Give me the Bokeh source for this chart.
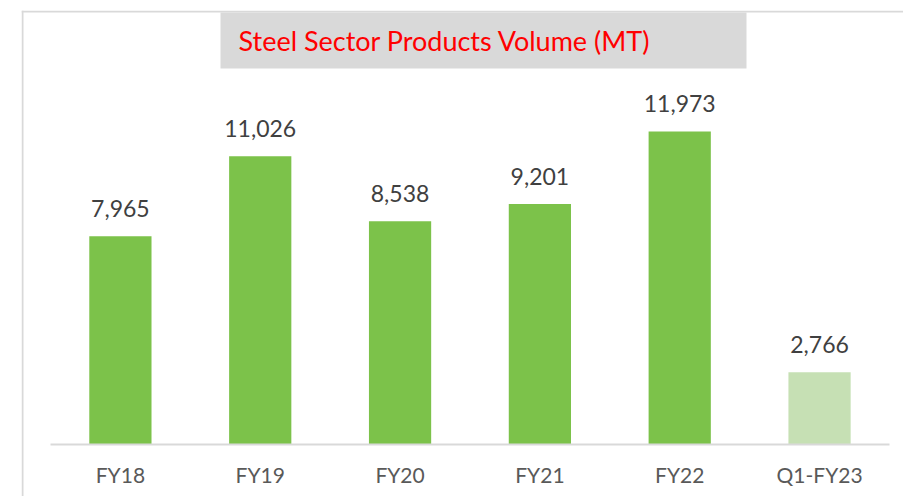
from bokeh.plotting import figure
from bokeh.models import (ColumnDataSource, LabelSet, Label, BoxAnnotation, Range1d,
                          LinearAxis, FixedTicker)
from bokeh.core.properties import value
from bokeh.embed import file_html
from bokeh.resources import INLINE

categories = ["FY18", "FY19", "FY20", "FY21", "FY22", "Q1-FY23"]
volumes = [7965, 11026, 8538, 9201, 11973, 2766]
bar_colors = ["#7CC24A", "#7CC24A", "#7CC24A", "#7CC24A", "#7CC24A", "#C6E0B4"]
title_text = "Steel Sector Products Volume (MT)"

positions = list(range(len(categories)))
src = ColumnDataSource(dict(x=positions, val=volumes, color=bar_colors,
                            lab=[f"{v:,}" for v in volumes]))

p = figure(width=903, height=496, x_range=Range1d(-0.7073, 5.6004),
           y_range=Range1d(-1988, 16597), output_backend="svg", toolbar_location=None,
           x_axis_type=None, y_axis_type=None,
           min_border_left=21, min_border_right=0, min_border_top=10, min_border_bottom=0)
p.outline_line_color = None
p.background_fill_color = "white"
p.border_fill_color = "white"
p.xgrid.visible = False
p.ygrid.visible = False

def screen_box(l, r, b, t):
    return BoxAnnotation(left=l, right=r, bottom=b, top=t, left_units="screen",
                         right_units="screen", top_units="screen", bottom_units="screen",
                         fill_color="#D9D9D9", fill_alpha=1, line_color=None, level="underlay")

# outer chart-area border (left and top) and the title box
p.add_layout(screen_box(0, 2, -5, 486))
p.add_layout(screen_box(0, 882, 484, 486))
p.add_layout(screen_box(199, 725, 428, 484))

p.vbar(x="x", top="val", width=0.445, fill_color="color", line_color=None, source=src)

ax = LinearAxis(fixed_location=0, bounds=(-0.5, len(categories) - 0.5),
                ticker=FixedTicker(ticks=positions),
                major_label_overrides={i: c for i, c in zip(positions, categories)})
ax.axis_line_color = "#D9D9D9"
ax.axis_line_width = 2
ax.major_tick_line_color = None
ax.minor_tick_line_color = None
ax.major_label_text_font = "Lato"
ax.major_label_text_font_size = "21px"
ax.major_label_text_color = "#595959"
ax.major_label_standoff = 11
p.add_layout(ax, "below")

labels = LabelSet(x="x", y="val", text="lab", source=src, y_offset=19,
                  text_align="center", text_baseline="alphabetic",
                  text_font=value("Lato"), text_font_size=value("23px"),
                  text_color=value("#404040"))
p.add_layout(labels)

p.add_layout(Label(x=217, y=456, x_units="screen", y_units="screen", text=title_text,
                   text_font="Lato", text_font_size="27px", text_color="#FF0000",
                   text_align="left", text_baseline="alphabetic"))

open("out.html", "w").write(file_html(p, INLINE))
